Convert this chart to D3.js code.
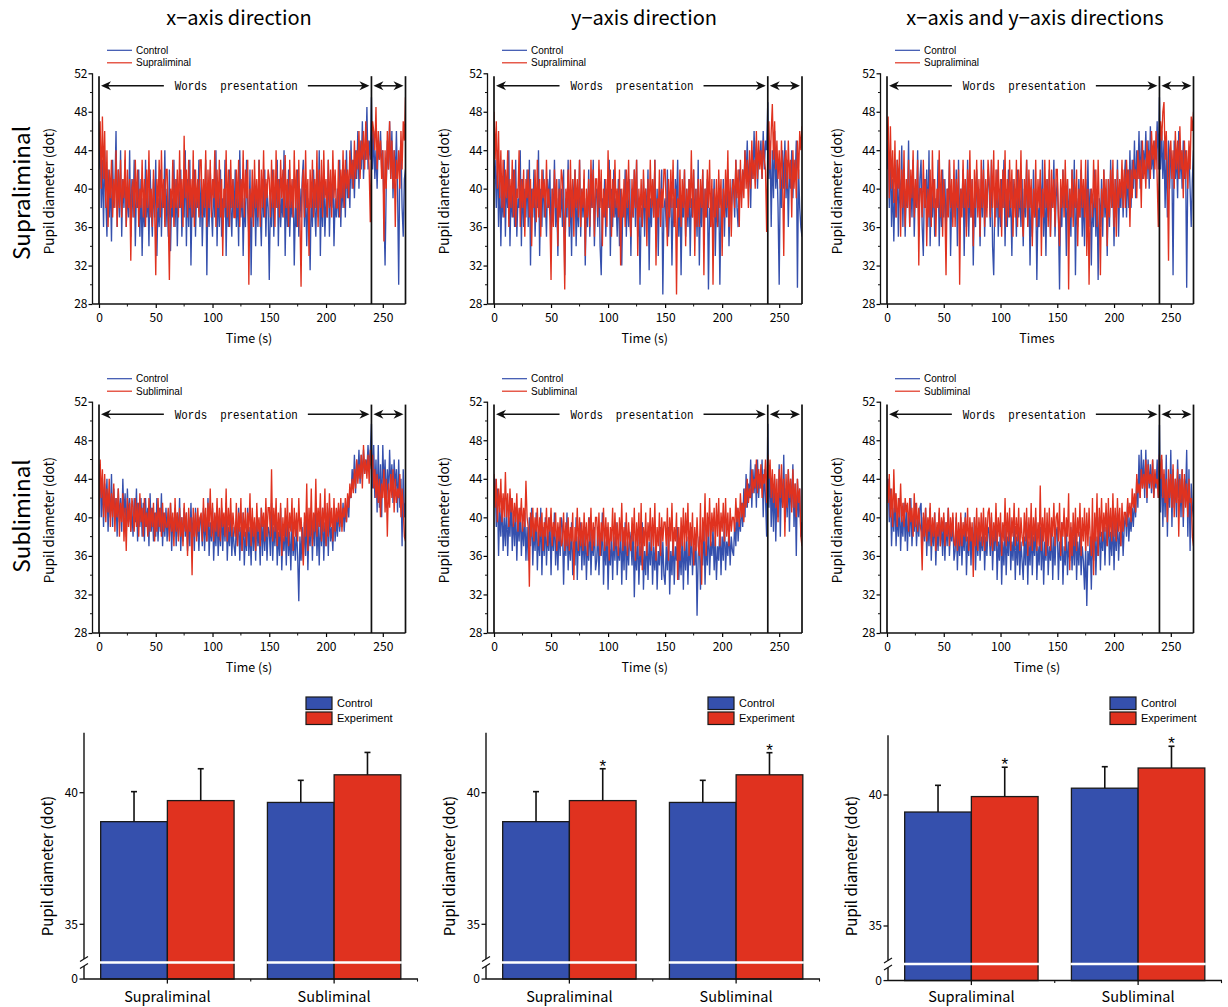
<!DOCTYPE html>
<html>
<head>
<meta charset="utf-8">
<script src="https://cdn.jsdelivr.net/npm/d3@7"></script>
<style>
  body { margin: 0; background: #fff; }
  svg { display: block; }
</style>
</head>
<body>
<svg id="fig" width="1228" height="1007"></svg>
<script>
// pupil diameter traces, one sample per second (0..270 s)
const xSupraControl = [
  42,45,38,43,36,44,39,35,42,37, 41,34.5,43,38,40,46,36,42,37,44, 35,41,38,43,36,40,37,44,35,41,
  37,43,34,40,38,42,35,41,33,39, 36,43,37,40,34,42,38,35,41,37, 43,33,39,36,42,35,40,38,44,36,
  40,35,42,33.5,39,37,43,36,41,34, 40,38,42,35,39,37,44,34,41,36, 43,32,39,37,42,35,40,38,43,36,
  41,34,39,37,43,31,40,36,42,38, 35,41,37,44,34,40,36,42,35,39, 37,43,33,40,36,42,38,35,41,37,
  42,36,40,34,44,37,41,33,39,36, 43,38,35,42,31,39,37,41,34,40, 36,43,38,34,41,37,42,35,40,38,
  30.5,39,36,42,35,40,38,43,34,41, 36,39,37,44,33,40,36,42,35,39, 37,41,32,38,36,42,35,40,37,41,
  43,36,40,34,39,37,31.5,40,36,42, 38,35,41,37,44,33,40,36,42,35, 39,37,43,35,40,38,42,34,39,37,
  40,37,43,36,41,38,42,37,44,39, 41,38,45,40,43,39,44,41,46,40, 45,42,47,41,44,43,48.5,42,45,43,
  49.5,42,46,41,44,40,45,43,46,42, 44,38,32,40,45,42,47,41,46,39, 44,41,46,40,30,43,45,38,35,41,
  42];
const xSupraExp = [
  44,47,40,47.5,41,46,38,44,36,42, 39,43,37,41,38,44,36,42,38,43, 37,41,39,44,36,42,38,41,32.5,40,
  41,37,43,38,42,36,40,38,43,37, 41,36,42,38,44,37,40,36,42,38, 31,41,38,43,37,44,38,41,36,42,
  42,37,30.5,40,38,43,36,41,38,42, 37,44,38,41,36,45.5,39,42,37,43, 38,41,37,44,36,42,38,41,37,43,
  43,37,41,38,44,36,42,38,43,37, 41,39,44,36,42,38,43,37,41,33, 40,38,44,37,42,36,43,38,41,37,
  37,42,38,43,36,41,38,44,37,42, 39,43,30,40,37,42,36,43,38,41, 37,43,36,42,38,44,37,41,39,42,
  41,37,43,38,42,36,44,38,41,37, 43,39,42,37,43.5,38,41,36,43,38, 41,37,44,38,42,36,43,37,29.8,40,
  42,37,44,38,41,33,42,38,43,37, 41,38,44,36,42,38,43,37,44,39, 41,37,43,38,42,37,44,39,42,38,
  38,43,37,42,39,44,38,43,40,42, 39,44,41,43,40,45,41,44,42,46, 41,45,43,46,42,47,43,45,42,36.5,
  44,47,46,44,48.5,42,46,43,45,41, 44,34.5,44,40,46,42,47,41,45,40, 44,36,43,41,44,40,46,42,47,45,
  49.5];
const ySupraControl = [
  41,43,38,44,36,42,34,40,37,43, 35,41,38,44,34,40,37,42,36,43, 35,39,38,44,34,41,36,40,37,42,
  36,43,32,40,37,42,35,39,38,44, 33,40,36,42,37,39,35,41,38,42, 34,40,37,43,36,39,33,41,37,40,
  36,42,31,39,37,43,35,40,33,41, 38,42,34,39,36,43,35,40,37,41, 32,39,36,42,35,40,38,43,34,39,
  40,36,42,34,31,39,37,41,35,40, 38,43,33,40,36,42,37,39,35,41, 34,40,32,39,37,42,35,40,36,41,
  33,40,37,42,36,43,35,39,30,38, 36,41,35,40,37,42,31.5,39,36,41, 37,43,35,40,33,40,38,42,29,38,
  39,36,42,35,38,40,32,39,36,41, 38,43,35,40,31,39,37,42,35,40, 36,41,33,39,37,42,36,40,35,43,
  32,39,36,42,35,40,37,41,29.5,38, 36,40,37,41,33,39,36,40,30,38, 36,41,35,40,37,42,34,39,38,41,
  40,37,43,38,36,42,41,39,42,40, 44,41,45,40,43,38,44,41,46,42, 45,40,44,43,45,41,46,42,45,44,
  49,41,45,36,44,39,46,40,43,38, 30,42,38,44,40,45,39,43,36,42, 40,44,39,43,41,45,29.7,42,38,36,
  35];
const ySupraExp = [
  48,43,47,40,46,39,44,38,43,37, 42,39,44,36,41,38,43,37,42,36, 40,39,44,36,41,38,42,35,41,39,
  42,37,41,34,40,38,42,36.5,43,37, 41,35,42,39,41,37,43,38,40,37, 30.5,40,36,42,38,41,34,40,37,42,
  41,37,29.5,40,38,42,36,43,37,41, 35,42,38,41,37,43,36,40,38,42, 33,40,37,41,36,43,38,42,35,41,
  41,37,43,38,42,34,40,37,41,36, 44,38,42,35,41,37,43,38,40,37, 42,32,40,37,41,36,42,38,43,37,
  35,41,37,42,38,43,33,40,37,41, 36,42,38,40,34,41,37,43,38,41, 37,43,32,39,37,42,36,40,38,42,
  42,38,34,41,37,42,38,43,36,40, 29,39,37,42,36,41,38,42,34,40, 37,41,38,44,37,42,33,40,36,41,
  36,41,38,42,31,40,37,42,38,43, 36,41,30,40,37,41,36,42,38,41, 33,40,37,42,38,44,36,41,35,40,
  41,38,43,39,42,36,43,38,42,39, 44,40,43,38,44,40,45,41,43,40, 46,41,45,42,44,41,45,43,42,35.5,
  44,47,42,46,48.8,43,47,42,45,41, 44,40,45,41,33,43,44,40,45,41, 43,37,44,40,43,39,45,41,46,44,
  46.5];
const xySupraControl = [
  42,45,38,44,36,41,34.5,40,37,43, 35,41,38,44.5,36,42,35,40,38,45, 36,41,37,43,35,40,38,44,35,41,
  43,36,33,41,38,42,36,44,34,40, 37,41,35,39,38,43,34,40,36,42, 37,41,35,40,38,43,33,39,37,40,
  37,42,34,43,36,40,38,42,33,41, 36,43,35,40,37,41,32,39,36,42, 38,40,34,41,37,43,35,40,38,42,
  40,36,43,34,31,39,37,42,35,40, 36,41,38,43,34,40,36,42,37,39, 33,41,38,40,35,42,37,40,36,41,
  34,40,37,43,36,41,32,39,35,42, 37,40,30.5,38,36,41,37,43,35,40, 33,41,37,42,35,40,38,43,35,39,
  41,37,29.5,39,36,42,38,40,33,41, 36,40,35,42,37,43,31,39,36,41, 37,42,35,40,34,41,37,43,36,40,
  32,39,36,42,35,40,30.5,39,36,41, 35,42,37,40,33,41,36,43,38,40, 34,41,37,43,35,40,38,42,37,41,
  43,37,42,38,44,38,43,40,45,39, 44,41,46,40,45,41,44,42,46,41, 45,40,46.5,42,44,41,45,43,47,42,
  49.5,42,46,41,45,38,44,37,45,40, 44,42,31,45,41,44,39,46,41,44, 40,45,41,44,29.7,42,44,40,36,41,
  44];
const xySupraExp = [
  45,47.5,39,46.5,40,44,38.5,45,37,43, 40,44,35,42,38,44,36,41,38,43, 36,42,39,44,37,41,38,43,32,40,
  40,37,43,38,41,34,40,37,42,36, 44,38,41,35,40,38,44,37,42,35, 41,38,31,40,37,43,38,41,36,43,
  36,41,38,42,30,40,37,43,38,41, 35,42,38,44,37,41,34,42,38,43, 37,41,35,43,38,42,36,41,37,43,
  41,37,43,38,44,36,42,38,43,37, 41,35,42,38,44,36,41,37,43,38, 42,35,41,37,43,36,42,38,44,37,
  35,41,38,43,36,42,38,41,34,40, 37,43,36,41,38,42,33,40,37,43, 38,41,36,43,35,42,38,41,36,42,
  42,37,34,41,38,42,37,43,38,41, 29.5,40,37,42,36,41,38,42,34,40, 37,43,38,41,37,43,33,40,30,38,
  40,37,43,38,42,36,43,38,31,40, 37,42,38,41,34,41,37,42,38,43, 36,41,35,42,38,41,39,43,38,42,
  38,43,40,42,36,42,39,43,41,42, 39,44,41,43,38,45,41,43,40,45, 42,44,41,46,43,45,42,46,41,36,
  44,47,45,48,49,43,46,42,32.5,44, 45,41,44,40,46,42,45,41,46.5,42, 44,39,45,41,44,40,45,42,47.5,46,
  48];
const xSubControl = [
  43,45.5,40,44,39,43.5,40.5,44,38.5,42.5, 40,44.5,39,43,40,42,38,43,39.5,42, 38.5,44,40,42.5,38,43,39.5,42,38.5,41,
  38,42,39.5,43,37.5,41.5,39,42,38,41.5, 37.5,42,39,41,37,42.5,38.5,41,37.5,40.5, 38,42,37.5,41,38.5,42.5,37,40.5,38,41,
  37.5,40.5,38,41.5,36.5,40,38,41,37,40.5, 38,42,36.5,40,37.5,41,38,40.5,36.5,40, 37,41.5,37.5,40,36.5,41,38,39.5,36.5,40,
  39.5,37,41,36.5,40,37.5,42,36,39.5,37.5, 41,35.5,39,37,40.5,36,39.5,37,41,36.5, 40,37.5,41.5,35.5,39,37,40.5,36,39,37,
  36,39.5,37,41,35.5,39,36.5,40.5,35,38.5, 36.5,41,36,39,35,40,36.5,39.5,35.5,40, 37,39,35,41,36,39.5,36.5,40,35.5,39,
  38.5,36,41.5,35.5,39,37,40.5,35,38.5,36, 41,34.5,38,36.5,39.5,35,40,36,38.5,34.5, 39.5,36,38,35.5,39,36,31.3,38,35.5,39,
  35.5,39.5,36,40.5,34.5,39,37,41,35.5,40, 37,41.5,36,39.5,35,40,37,41,35.5,39.5, 37,40.5,36,41,37.5,39,36.5,41,37.5,40,
  38,41,38.5,40.5,39,41.5,38.5,41,39.5,42, 40,43,42,45,43,46.5,42.5,46,44,47, 43.5,46.5,44,47,44.5,46,45,47.5,45,47,
  49.7,43,47.5,42,46,40.5,47.5,41,45.5,40, 47.5,43,46,41,45,42,47,43,45.5,41.5, 46,43,45,40.5,46,41,44,37,45,40,
  41.5];
const xSubExp = [
  40,46,42,45,40,44.5,39.5,43,40.5,44, 39,42.5,40,43.5,38.5,42,40,43,38,41.5, 39.5,42.5,37.5,41,36.5,42,39,41.5,38.5,42,
  41,38.5,42,39,41.5,38,42.5,39.5,41,38, 42,39,40.5,38,42,38.5,41,39,41.5,37.5, 40.5,38.5,42,39,41,38,41.5,38.5,40.5,39,
  39,41,37.5,41.5,38.5,40.5,37,42,38.5,40.5, 37.5,41,38,40,37,41.5,38.5,40.5,36,41, 38.5,40,34,41,38,40.5,37.5,41,38.5,40,
  40.5,37.5,42,38.5,41,37.5,41.5,39,43,38, 41.5,37.5,40.5,38.5,42,38,41,37.5,42,39, 40.5,38,43,37.5,41,38.5,42,38,40.5,39,
  38,41.5,37,40.5,38.5,42,36.5,40.5,38,41, 37,40.5,38.5,42.5,37,41,38,40,36.5,41.5, 38.5,40,37,41,39,40.5,37.5,42,38,41,
  41,38,45,37.5,41,38.5,42,37,40.5,38, 41.5,36,40,37.5,41,38,42,37,40.5,38.5, 42,36.5,41,38,40.5,37.5,42,38.5,40,37.5,
  35,40.5,38,43.5,36.5,41,38,43,37,40.5, 38.5,44,38,41,39,42.5,37.5,41,38.5,43, 37,41.5,38,42.5,39,41,37.5,42,38.5,41,
  39.5,41.5,39,42,38.5,41,40,42,39.5,42.5, 41,43.5,42,44,42.5,45,43,46,43.5,45.5, 44,46.5,43,47.5,44.5,46,44,46.5,43.5,47,
  45,46.5,43,45,42,44.5,41.5,44,40,43.5, 42,45,40.5,44,38,43.5,41,44.5,42,45, 40.5,44,41.5,43,42,44.5,40,43,41,38,
  37.5];
const ySubControl = [
  42,44,39,43,36,41,38,42,36.5,40, 37,41.5,36,40,38,42,36.5,40.5,37,41, 35.5,40,37.5,41,36,39.5,37,40.5,35.5,39,
  35.5,40,37,41,35,39,36.5,40.5,34.5,38.5, 36,41,34,39,36,40,35,38.5,36.5,40, 34,39,36.5,40.5,35,38.5,34.5,39,36,40,
  39,33,38,36,40.5,34.5,38,35.5,39.5,34, 37.5,35,40,33.5,38,36,39.5,34.5,38.5,35, 39,33.5,37.5,35.5,40,34,38,36,39,34.5,
  35.5,39,34,38,36,40.5,33,37.5,35,39, 32.5,37,35,38.5,33.5,38,35.5,39.5,34,37, 35.5,39,33,38,34.5,39.5,33.5,37.5,35,38.5,
  37.5,35,39,31.7,37,34.5,38.5,33,37,35, 39.5,32.5,36.5,34,38.5,33.5,37.5,35,39,33, 37,34.5,38,32.5,36.5,35,39,33.5,37.5,34,
  33,37,34.5,39,32,36.5,34,38.5,33,37, 35.5,39,33.5,36.5,34,38.5,32.5,37.5,34.5,38, 33,37.5,35,39,34,37,35,38,29.8,36,
  38,32.5,37,35,39.5,33,37.5,35,40,34, 37.5,36,39,34.5,38,33.5,37,35.5,39.5,34, 38,35.5,40,34.5,37.5,36,39,35,38,36.5,
  36,39.5,37,41,37.5,40,38.5,41.5,39,43, 40,44.5,41,43.5,42,46,41,45,42.5,45.5, 41,46,42,44.5,43,46,40,45,42,38,
  49.7,41,45,39,43.5,38.5,44,37.5,42.5,40, 45.5,38,44,41,46.5,39.5,43,40,45,38.5, 44,41,45.5,39,43.5,36,44,40,43,38,
  39.5];
const ySubExp = [
  44.5,41,44,39.5,43,40.5,44,39.5,42.5,40, 44.7,40,42.5,39,43,40.5,42,39,41.5,39.5, 42.5,38.5,41,39.5,42,38.5,41,39,43.8,40,
  39,32.8,40.5,38,41,37.5,40,38.5,41,37, 40,38,40.5,36.5,39.5,38,41,37,40,38.5, 41,37,39.5,38,40.5,36.5,39.5,37.5,40,37,
  37.5,40.5,36.5,39.5,37,40,36.5,39,37.5,40.5, 33.5,39,37.5,41,36.5,40,37,39.5,36.5,40.5, 37,39.5,36,40,37.5,41,36.5,39.5,37,40,
  40,37,40.5,36,39.5,37.5,41,36.5,40,37, 39.5,35.5,39,37.5,41,36.5,40.5,37,39.5,36, 40,37.5,41.5,36.5,39,37,40.5,36,39.5,37.5,
  36.5,40,37.5,41,35.5,39.5,37,40.5,36,41.5, 34.5,39,37,40.5,36,39.5,37.5,41,36.5,40, 37,41.5,35.5,39,37,40.5,36,40,37.5,39.5,
  39.5,37,41,35.5,40,37.5,41.5,36,39,37.5, 40.5,33.5,39,35.5,40,37,41,36.5,40.5,37.5, 41.5,36,39.5,37,40.5,35,39,36.5,40,37,
  36,41.5,33,40,37.5,42.5,36,40.5,38,42, 37,40.5,38.5,41,37,41.5,38,42,37,40.5, 38.5,41.5,37.5,42,38,40.5,37,41,38.5,40,
  40,38.5,42,39.5,41,39,42.5,40,41.5,39.5, 43,41,44,41.5,43,42,45,42.5,44,43, 46,42.5,45,43,45.5,42,44.5,43.5,46,41.5,
  46.5,44,46,42,45,41.5,44.5,41,44,39.5, 45,42,45.5,41,44,38,44.5,41,45,42, 44,40.5,45,41,43.5,40,44,41.5,43,38,
  37];
const xySubControl = [
  43,44,39.5,43,37,41,38.5,42.5,37,40.5, 38,42,36.5,40,38,41.5,37.5,41,36.5,40.5, 38,42,37,40,38.5,41.5,37,40,38,41,
  41.5,36.5,40,37.5,41,36,39.5,37,41,35.5, 39,37,40.5,35,39,36.5,40.5,37,39.5,36, 40,35.5,39.5,37,41,36,39,37.5,40,35.5,
  36.5,40,34.5,38.5,36,40,35,38.5,36.5,40.5, 34,38,36,39.5,35,39,36.5,40,34.5,38.5, 36,39.5,35.5,38,36.5,40,34.5,38,36,39,
  38.5,36,40,34.5,38,36.5,40.5,33.5,37.5,35.5, 39.5,33,37.5,35,39,34,38,36,40,34.5, 37.5,35.5,39.5,33.5,38,35,39,34,37.5,35.5,
  33.5,38,35,39.5,33,37.5,35,39,34,38, 36,40,33.5,37,35,39,34.5,38.5,33,37.5, 35.5,39.5,34,37,35.5,39,33.5,38,35,38.5,
  39,33.5,37.5,35.5,39.5,33,37,35,39,34, 37.5,35.5,39,34.5,38,35,39.5,33.5,37.5,35, 38.5,34,37,35.5,32.5,37,30.8,36.5,35,38,
  32.5,38,35.5,40,34,38,36,40,34.5,38.5, 36.5,40,35,39,37,40.5,35,38.5,36,40, 34.5,39,36.5,40.5,35.5,38.5,37,40,36,39,
  40.5,38,41.5,37.5,40,38.5,41,39,42,40, 44,41,46.5,42,47,43,46,42,47,41.5, 46,43,45.5,42.5,46,42,44,43,46,42,
  49.6,40.5,46,39,44.5,40,46.5,38,44,41, 47,39,45,41,44,40,46,42,44.5,40, 45,39,44,42,47,38,45,36.5,43.5,41,
  40];
const xySubExp = [
  44,41.5,44.5,40,43,39,45,40.5,42.5,39, 42,40,43.5,39.5,41.5,39,42,40.5,41.5,38.5, 42,39.5,41,38,42.5,39,41.5,38.5,41,39.5,
  38.5,34.5,40.5,38,41,37.5,40,38.5,41.5,37, 40,38,40.5,36.5,39.5,38,41,37,40,38.5, 40.5,37,39.5,38,41,37,40,38,40.5,37.5,
  37,40.5,36.5,39.5,37,40.5,37,39.5,38,40, 37.5,41,36.5,40,37.5,39.5,33.8,40,37,41, 36.5,40,37.5,40.5,37,41,36.5,40,37.5,40.5,
  41,37,40.5,36.5,39.5,37.5,41.5,37,40,38, 40.5,36,39.5,37.5,42,37,40.5,37.5,41,36.5, 40,38,41.5,37,40,37.5,41,36.5,40,38,
  37,40.5,37.5,41,36,40,37,41.5,36.5,40, 37.5,41,36.5,39.5,37,43.3,36.5,40,37.5,41, 36,40.5,37,41,36.5,40,38,41.5,37,40,
  40.5,37.5,41.5,36,39.5,38,41,36.5,40,38, 42.5,34.5,39.5,36,40.5,37,41,36.5,40,38, 41.5,36,40,37.5,41,36.5,40.5,37,41,38,
  36,42,34,40.5,37.5,42.5,36,41,38,42, 37.5,40.5,38.5,41.5,37,42,38,41,37.5,42.5, 38,41,37.5,42,38.5,41,37,41.5,38.5,40.5,
  40.5,39,42,40,41.5,39.5,43,41,42.5,40.5, 44.5,42.5,43.5,42,45,43,44.5,43,46,42, 45.5,43.5,44.5,43,46,42,45,43.5,44,42,
  46.5,44,46.5,42,45,41.5,44,39.5,45,42, 44.5,41,45.5,40,44,41.5,45,38,44,41.5, 45,40,44.5,41,43.5,40,44,41.5,42,38,
  37];
const sampleSec = 1;

const yTicksMajor = [28, 32, 36, 40, 44, 48, 52];
const yTicksMinor = [30, 34, 38, 42, 46, 50];
const xTicksMajor = [0, 50, 100, 150, 200, 250];
const xTicksMinor = [25, 75, 125, 175, 225];

// bar charts: [group][series]
const barGroups = ['Supraliminal', 'Subliminal'];
const barSeries = ['Control', 'Experiment'];
const xBarMean = [[38.9, 39.7], [39.63, 40.68]];
const xBarErr = [[1.14, 1.21], [0.84, 0.85]];
const xBarStar = [[0, 0], [0, 0]];
const yBarMean = [[38.9, 39.7], [39.63, 40.68]];
const yBarErr = [[1.14, 1.21], [0.84, 0.84]];
const yBarStar = [[0, 1], [0, 1]];
const xyBarMean = [[39.35, 39.94], [40.26, 41.03]];
const xyBarErr = [[1.02, 1.12], [0.82, 0.83]];
const xyBarStar = [[0, 1], [0, 1]];
const barTicks = [35, 40];

const BLUE = '#3550ad';
const RED = '#e0321f';
const FONT = '"Noto Sans CJK JP", "Noto Sans", sans-serif';
const SMALL = '"Liberation Sans", Arial, sans-serif';
const MONO = '"Liberation Mono", "DejaVu Sans Mono", monospace';

const svg = d3.select('#fig').style('font-family', FONT);
const defs = svg.append('defs');

const traceCols = [
    { x0: 99, x270: 405.5, title: 'x\u2212axis direction', tx: 239 },
    { x0: 494, x270: 802, title: 'y\u2212axis direction', tx: 644 },
    { x0: 887, x270: 1193.5, title: 'x\u2212axis and y\u2212axis directions', tx: 1035 },
];
const rowTop = [73.3, 401.7];
const rowBottom = [304, 633];
const rowLabelY = [191, 520];

const tracePanels = [
    { col: 0, row: 0, ctrl: xSupraControl, exp: xSupraExp, expName: 'Supraliminal', xLabel: 'Time (s)' },
    { col: 1, row: 0, ctrl: ySupraControl, exp: ySupraExp, expName: 'Supraliminal', xLabel: 'Time (s)' },
    { col: 2, row: 0, ctrl: xySupraControl, exp: xySupraExp, expName: 'Supraliminal', xLabel: 'Times' },
    { col: 0, row: 1, ctrl: xSubControl, exp: xSubExp, expName: 'Subliminal', xLabel: 'Time (s)' },
    { col: 1, row: 1, ctrl: ySubControl, exp: ySubExp, expName: 'Subliminal', xLabel: 'Time (s)' },
    { col: 2, row: 1, ctrl: xySubControl, exp: xySubExp, expName: 'Subliminal', xLabel: 'Time (s)' },
];

const arrowHead = (g, tx, ty, dir) => {
    // dir -1 points left, +1 points right
    g.append('path')
        .attr('d', `M${tx},${ty} L${tx - dir * 10},${ty - 4.5} L${tx - dir * 7},${ty} L${tx - dir * 10},${ty + 4.5} Z`)
        .attr('fill', '#111');
};

const hLine = (g, x1, x2, yv, w) =>
    g.append('line').attr('x1', x1).attr('x2', x2).attr('y1', yv).attr('y2', yv)
        .attr('stroke', '#111').attr('stroke-width', w);

const drawTrace = (p, k) => {
    const c = traceCols[p.col];
    const x = d3.scaleLinear().domain([0, 270]).range([c.x0, c.x270]);
    const y = d3.scaleLinear().domain([28, 52]).range([rowBottom[p.row], rowTop[p.row]]);
    const axX = c.x0 - 6.5;
    const base = rowBottom[p.row];
    const g = svg.append('g');

    defs.append('clipPath').attr('id', `clip${k}`).append('rect')
        .attr('x', x(0)).attr('y', y(52)).attr('width', x(270) - x(0)).attr('height', base - y(52));

    const line = d3.line().x((d, i) => x(i * sampleSec)).y((d) => y(d));
    const traces = g.append('g').attr('clip-path', `url(#clip${k})`);
    traces.append('path').datum(p.ctrl).attr('d', line)
        .attr('fill', 'none').attr('stroke', BLUE).attr('stroke-width', 1.35);
    traces.append('path').datum(p.exp).attr('d', line)
        .attr('fill', 'none').attr('stroke', RED).attr('stroke-width', 1.35);

    // period markers
    [0, 240, 270].forEach((t) => {
        g.append('line').attr('x1', x(t)).attr('x2', x(t))
            .attr('y1', y(51.7)).attr('y2', base)
            .attr('stroke', '#111').attr('stroke-width', 1.7);
    });

    // y axis
    const ya = g.append('g').attr('transform', `translate(${axX},0)`)
        .call(d3.axisLeft(y).tickValues(yTicksMajor).tickSize(4).tickSizeOuter(0).tickPadding(1));
    ya.select('.domain').remove();
    ya.attr('font-size', 12).attr('font-family', FONT);
    ya.selectAll('line').attr('stroke-width', 1.2);
    g.append('line').attr('x1', axX).attr('x2', axX).attr('y1', y(52)).attr('y2', base)
        .attr('stroke', '#111').attr('stroke-width', 1.3);
    yTicksMinor.forEach((v) => {
        g.append('line').attr('x1', axX - 2.5).attr('x2', axX).attr('y1', y(v)).attr('y2', y(v))
            .attr('stroke', '#111').attr('stroke-width', 1);
    });

    // x axis
    const xa = g.append('g').attr('transform', `translate(0,${base})`)
        .call(d3.axisBottom(x).tickValues(xTicksMajor).tickSize(4).tickPadding(5));
    xa.select('.domain').remove();
    xa.attr('font-size', 12).attr('font-family', FONT);
    xa.selectAll('line').attr('stroke-width', 1.2);
    hLine(g, axX, x(270), base, 1.3);
    xTicksMinor.forEach((t) => {
        g.append('line').attr('x1', x(t)).attr('x2', x(t)).attr('y1', base).attr('y2', base + 2.5)
            .attr('stroke', '#111').attr('stroke-width', 1);
    });

    g.append('text').attr('x', (axX + x(270)) / 2).attr('y', base + 38.5)
        .attr('text-anchor', 'middle').attr('font-size', 12.5).text(p.xLabel);
    g.append('text')
        .attr('transform', `translate(${axX - 39},${rowLabelY[p.row]}) rotate(-90)`)
        .attr('text-anchor', 'middle').attr('font-size', 13.5).text('Pupil diameter (dot)');

    // "Words presentation" arrows
    const ay = y(50.7);
    const half = 61.5;
    g.append('text').attr('x', x(121)).attr('y', ay).attr('dy', '0.36em')
        .attr('text-anchor', 'middle').attr('font-family', MONO).attr('font-size', 13)
        .attr('textLength', half * 2).attr('lengthAdjust', 'spacingAndGlyphs')
        .text('Words\u00a0\u00a0presentation');
    hLine(g, x(0) + 5, x(121) - half - 11, ay, 1.5);
    hLine(g, x(121) + half + 10, x(240) - 5, ay, 1.5);
    arrowHead(g, x(0) + 2, ay, -1);
    arrowHead(g, x(240) - 2, ay, 1);
    hLine(g, x(240) + 5, x(270) - 5, ay, 1.5);
    arrowHead(g, x(240) + 2, ay, -1);
    arrowHead(g, x(270) - 2, ay, 1);

    // legend
    [['Control', BLUE], [p.expName, RED]].forEach(([name, col], i) => {
        const ly = rowTop[p.row] - 23 + i * 12.5;
        g.append('line').attr('x1', c.x0 + 8).attr('x2', c.x0 + 33).attr('y1', ly).attr('y2', ly)
            .attr('stroke', col).attr('stroke-width', 1.2);
        g.append('text').attr('x', c.x0 + 37).attr('y', ly).attr('dy', '0.35em')
            .attr('font-family', SMALL).attr('font-size', 10).text(name);
    });
};

tracePanels.forEach(drawTrace);

traceCols.forEach((c) => {
    svg.append('text').attr('x', c.tx).attr('y', 25).attr('text-anchor', 'middle')
        .attr('font-size', 20).text(c.title);
});

svg.append('text').attr('transform', 'translate(30,193) rotate(-90)')
    .attr('text-anchor', 'middle').attr('font-size', 22.5).text('Supraliminal');
svg.append('text').attr('transform', 'translate(30,516) rotate(-90)')
    .attr('text-anchor', 'middle').attr('font-size', 22.5).text('Subliminal');

// bar charts
const barCharts = [
    { ax: 84, y35: 924.3, y40: 792.7, mean: xBarMean, err: xBarErr, star: xBarStar },
    { ax: 486, y35: 924.3, y40: 792.7, mean: yBarMean, err: yBarErr, star: yBarStar },
    { ax: 888, y35: 926, y40: 795, mean: xyBarMean, err: xyBarErr, star: xyBarStar },
];
const barColor = d3.scaleOrdinal().domain(barSeries).range([BLUE, RED]);

const drawBars = (b) => {
    const ax = b.ax;
    const y = d3.scaleLinear().domain([35, 40]).range([b.y35, b.y40]);
    const topY = y(42.28);
    const breakY = y(33.55);
    const baseY = breakY + 16.6;
    const x0 = d3.scaleBand().domain(barGroups).range([ax, ax + 333.5]).paddingInner(0.2).paddingOuter(0.1);
    const x1 = d3.scaleBand().domain(barSeries).range([0, x0.bandwidth()]);
    const g = svg.append('g');

    const data = [];
    barGroups.forEach((grp, gi) => {
        barSeries.forEach((s, si) => {
            data.push({ grp, s, v: b.mean[gi][si], e: b.err[gi][si], star: b.star[gi][si] });
        });
    });

    g.selectAll('.bar').data(data).enter().append('rect')
        .attr('class', 'bar')
        .attr('x', (d) => x0(d.grp) + x1(d.s))
        .attr('y', (d) => y(d.v))
        .attr('width', x1.bandwidth())
        .attr('height', (d) => baseY - y(d.v))
        .attr('fill', (d) => barColor(d.s))
        .attr('stroke', '#1a1a1a').attr('stroke-width', 1.3);

    data.forEach((d) => {
        const cx = x0(d.grp) + x1(d.s) + x1.bandwidth() / 2;
        const top = y(d.v + d.e);
        g.append('line').attr('x1', cx).attr('x2', cx).attr('y1', y(d.v)).attr('y2', top)
            .attr('stroke', '#111').attr('stroke-width', 1.6);
        hLine(g, cx - 3, cx + 3, top, 1.6);
        if (d.star) {
            g.append('text').attr('x', cx).attr('y', top + 3).attr('text-anchor', 'middle')
                .attr('font-family', SMALL).attr('font-size', 17).text('*');
        }
    });

    // axis break across the bars
    barGroups.forEach((grp) => {
        g.append('line').attr('x1', x0(grp) - 1).attr('x2', x0(grp) + x0.bandwidth() + 1)
            .attr('y1', breakY).attr('y2', breakY).attr('stroke', '#fff').attr('stroke-width', 2.5);
    });

    // y axis with break
    g.append('line').attr('x1', ax).attr('x2', ax).attr('y1', topY).attr('y2', breakY - 3.5)
        .attr('stroke', '#111').attr('stroke-width', 1.4);
    g.append('line').attr('x1', ax).attr('x2', ax).attr('y1', breakY + 3.5).attr('y2', baseY)
        .attr('stroke', '#111').attr('stroke-width', 1.4);
    [-3.5, 3.5].forEach((o) => {
        g.append('line').attr('x1', ax - 4).attr('x2', ax + 4)
            .attr('y1', breakY + o + 2.5).attr('y2', breakY + o - 2.5)
            .attr('stroke', '#111').attr('stroke-width', 1.2);
    });
    const tickRows = barTicks.map((v) => ({ label: v, py: y(v) })).concat([{ label: 0, py: baseY }]);
    tickRows.forEach((t) => {
        hLine(g, ax - 4.5, ax, t.py, 1.3);
        g.append('text').attr('x', ax - 6).attr('y', t.py).attr('dy', '0.35em')
            .attr('text-anchor', 'end').attr('font-size', 12).text(t.label);
    });

    // x axis
    hLine(g, ax, ax + 334, baseY, 1.5);
    barGroups.forEach((grp) => {
        const cx = x0(grp) + x0.bandwidth() / 2;
        g.append('line').attr('x1', cx).attr('x2', cx).attr('y1', baseY).attr('y2', baseY + 4.5)
            .attr('stroke', '#111').attr('stroke-width', 1.3);
        g.append('text').attr('x', cx).attr('y', 1002).attr('text-anchor', 'middle')
            .attr('font-size', 14.5).text(grp);
    });
    [ax + 166.75, ax + 333.5].forEach((mx) => {
        g.append('line').attr('x1', mx).attr('x2', mx).attr('y1', baseY).attr('y2', baseY + 2.5)
            .attr('stroke', '#111').attr('stroke-width', 1.1);
    });

    g.append('text').attr('transform', `translate(${ax - 31.5},866) rotate(-90)`)
        .attr('text-anchor', 'middle').attr('font-size', 15).text('Pupil diameter (dot)');

    // legend
    barSeries.forEach((s, i) => {
        const ly = 697 + i * 15;
        g.append('rect').attr('x', ax + 222).attr('y', ly).attr('width', 26).attr('height', 12.5)
            .attr('fill', barColor(s)).attr('stroke', '#1a1a1a').attr('stroke-width', 1.2);
        g.append('text').attr('x', ax + 253).attr('y', ly + 6.5).attr('dy', '0.35em')
            .attr('font-family', SMALL).attr('font-size', 11).text(s);
    });
};

barCharts.forEach(drawBars);
</script>
</body>
</html>
